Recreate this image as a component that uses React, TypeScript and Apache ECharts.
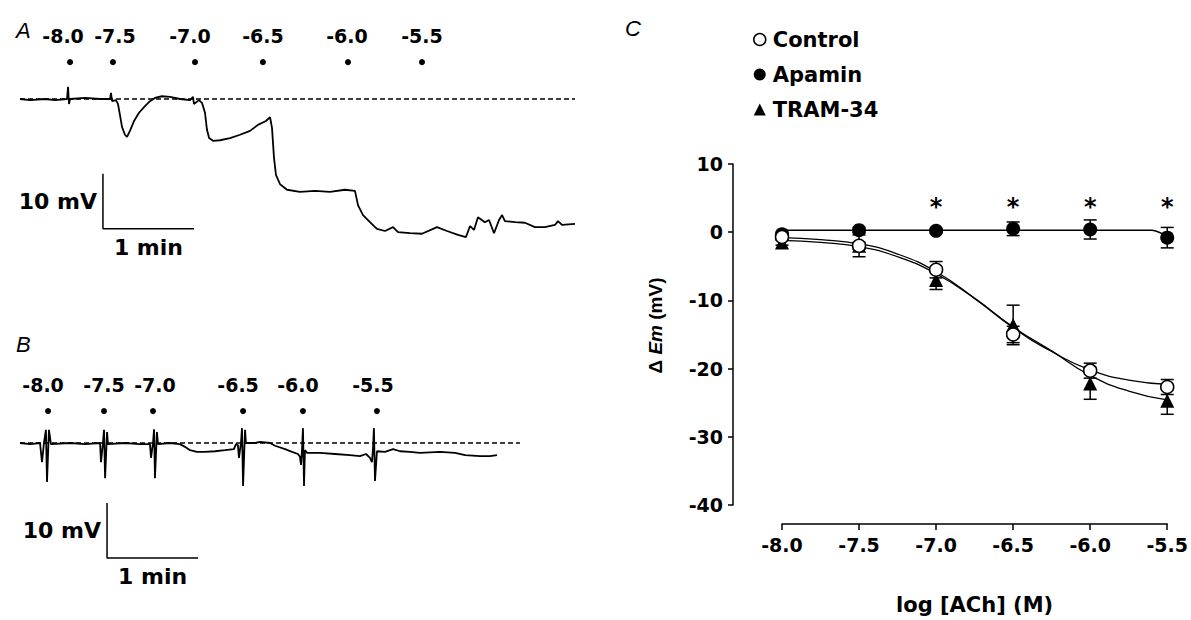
import React, { useEffect, useRef } from "react";
import * as echarts from "echarts";

const FONT = "'DejaVu Sans', sans-serif";
const ARIAL = "'Liberation Sans', Arial, sans-serif";

// ---------- Panel A: membrane potential trace (time s, change in mV) ----------
const traceATime = [0, 6.6, 16.5, 23.1, 31.0, 31.7, 32.3, 33.0, 42.9, 52.8, 59.4, 60.0, 60.7, 63.3, 64.6, 65.9, 67.3, 69.2, 70.6, 72.5, 75.2, 78.5, 82.4, 85.7, 89.0, 93.6, 98.9, 105.5, 112.1, 114.1, 114.7, 118.0, 120.0, 122.0, 123.3, 124.7, 127.3, 131.9, 138.5, 145.1, 151.7, 156.9, 162.2, 164.9, 166.2, 167.5, 168.8, 171.5, 176.1, 184.6, 194.5, 204.4, 214.3, 220.9, 222.9, 226.2, 230.8, 235.4, 240.7, 246.0, 249.3, 257.2, 265.1, 275.0, 281.6, 288.8, 294.1, 296.8, 299.4, 302.0, 306.6, 309.3, 312.6, 315.9, 317.9, 319.8, 326.4, 333.0, 339.6, 346.2, 352.8, 354.8, 357.4, 366.0];
const traceAmV = [0, -0.2, 0, -0.2, 0, 2.2, -0.9, 0, 0.2, 0, 0, 1.1, -0.4, -0.2, -0.9, -2.9, -5.1, -6.5, -6.9, -5.8, -4.0, -2.5, -1.3, -0.4, 0.2, 0.5, 0.4, 0, -0.2, 0.4, -0.9, -0.2, -0.7, -2.5, -5.6, -7.1, -7.6, -7.5, -7.1, -6.5, -5.8, -4.7, -4.0, -3.3, -5.3, -10.7, -13.8, -15.5, -16.5, -16.9, -16.7, -16.9, -16.5, -16.7, -19.3, -21.1, -22.4, -23.6, -24.0, -23.3, -24.2, -24.4, -24.5, -23.3, -24.0, -24.7, -25.1, -23.1, -23.8, -21.5, -22.4, -22.0, -24.4, -22.0, -21.1, -22.2, -22.4, -22.5, -23.3, -23.3, -22.9, -22.2, -22.9, -22.7];
const baselineAEnd = 366;

// ---------- Panel B: trace ----------
const traceBTime = [0, 6.6, 13.2, 14.5, 15.8, 17.1, 17.8, 19.1, 20.4, 33.0, 42.9, 52.8, 53.4, 54.7, 55.4, 56.1, 57.4, 58.0, 69.2, 79.1, 85.7, 86.4, 87.7, 88.4, 89.0, 90.3, 91.0, 98.9, 105.5, 108.8, 112.1, 116.7, 122.0, 128.6, 135.2, 141.1, 142.4, 143.7, 144.4, 145.7, 146.4, 147.1, 148.4, 149.0, 155.0, 158.3, 164.9, 168.2, 174.8, 179.4, 183.3, 184.6, 185.3, 185.9, 186.6, 187.3, 187.9, 189.3, 197.8, 207.7, 217.6, 224.2, 228.2, 230.8, 232.1, 232.8, 233.4, 234.1, 235.4, 240.7, 246.0, 250.6, 257.2, 263.8, 277.0, 286.9, 293.5, 303.4, 309.9, 314.6];
const traceBmV = [0, -0.2, 0, -3.5, 0, 2.4, -7.1, 2.4, -0.2, 0, -0.2, 0, -3.5, 0, 2.4, -6.4, 2.0, -0.2, 0, -0.2, -0.2, -2.7, 0, 2.5, -6.4, 2.0, -0.2, 0, -0.2, -0.7, -1.3, -1.6, -1.6, -1.5, -1.3, -1.1, -0.2, -0.4, -2.7, 0, 2.7, -7.8, 2.4, 0, 0, 0.2, 0, -0.5, -1.1, -1.6, -2.0, -2.5, -4.0, -1.6, 2.7, -7.8, -1.3, -1.8, -1.8, -2.0, -2.2, -2.4, -2.0, -2.7, -3.5, -0.9, 2.7, -6.9, -1.5, -1.6, -1.1, -1.5, -1.6, -1.8, -1.6, -1.8, -2.2, -2.4, -2.4, -2.2];
const baselineBEnd = 329.7;

// ---------- dose application marks ----------
const doseLabels = ["-8.0", "-7.5", "-7.0", "-6.5", "-6.0", "-5.5"];
const doseTimesA = [33.0, 61.3, 115.4, 160.2, 216.3, 265.1];
const doseTimesB = [18.5, 55.4, 87.7, 147.1, 186.6, 235.4];
const doseLevelA = 6.7;
const doseLevelB = 5.8;

// ---------- scale bars (origin = top of the 10 mV bar) ----------
const scaleBarSec = 60;
const scaleBarMv = 10;
const scaleA = [54.7, -13.6];
const scaleB = [57.4, -10.9];

// ---------- Panel C: concentration-response ----------
const logACh = [-8.0, -7.5, -7.0, -6.5, -6.0, -5.5];
const controlMean = [-0.7, -2.0, -5.5, -15.0, -20.3, -22.7];
const controlSem = [0.4, 1.6, 1.2, 1.2, 1.1, 1.1];
const apaminMean = [-0.3, 0.3, 0.2, 0.5, 0.4, -0.8];
const apaminSem = [0.3, 0.4, 0.3, 1.0, 1.4, 1.5];
const tramMean = [-1.5, -2.0, -7.0, -13.6, -22.2, -24.7];
const tramSem = [0.4, 0.5, 1.4, 2.9, 2.3, 2.0];

const fitX = [-8.0, -7.75, -7.5, -7.25, -7.0, -6.75, -6.5, -6.25, -6.0, -5.75, -5.5];
const controlFit = [-0.8, -1.1, -1.7, -3.2, -5.8, -9.7, -14.0, -17.5, -20.2, -21.7, -22.3];
const tramFit = [-1.2, -1.5, -2.1, -3.6, -6.1, -9.7, -13.9, -17.4, -21.0, -23.3, -24.6];
const apaminFitX = [-8.0, -7.0, -6.0, -5.6, -5.57, -5.54, -5.5];
const apaminFit = [0.3, 0.3, 0.3, 0.3, 0.15, -0.15, -0.8];

const sigX = [-7.0, -6.5, -6.0, -5.5];
const sigLevel = 4.3;

// label nudges (style only, px)
const labelNudgeA = [-7, 2, -5, 0, -1, 0];
const labelNudgeB = [-5, 0, 2, -5, -5, -4];

const zip = (a: number[], b: number[]) => a.map((v, i) => [v, b[i]]);

function errorSeries(name: string, mean: number[], sem: number[], z: number) {
  return {
    type: "custom",
    name: name + "-err",
    xAxisIndex: 2,
    yAxisIndex: 2,
    z,
    silent: true,
    data: logACh.map((x, i) => [x, mean[i], sem[i]]),
    encode: { x: 0, y: 1 },
    renderItem: (params: any, api: any) => {
      const x = api.value(0);
      const m = api.value(1);
      const e = api.value(2);
      const top = api.coord([x, m + e]);
      const bot = api.coord([x, m - e]);
      const cap = 6.5;
      const style = { stroke: "#000", lineWidth: 1.5 };
      return {
        type: "group",
        children: [
          { type: "line", shape: { x1: top[0], y1: top[1], x2: bot[0], y2: bot[1] }, style },
          { type: "line", shape: { x1: top[0] - cap, y1: top[1], x2: top[0] + cap, y2: top[1] }, style },
          { type: "line", shape: { x1: bot[0] - cap, y1: bot[1], x2: bot[0] + cap, y2: bot[1] }, style },
        ],
      };
    },
  };
}

function tracePanel(idx: number, time: number[], mv: number[], baseEnd: number, doseTimes: number[], doseLevel: number, scale: number[], nudge: number[]) {
  const [t0, v0] = scale;
  const common = { xAxisIndex: idx, yAxisIndex: idx, silent: true };
  return [
    {
      ...common,
      type: "line",
      data: zip(time, mv),
      symbol: "none",
      lineStyle: { color: "#000", width: 1.8 },
      z: 3,
    },
    {
      ...common,
      type: "line",
      data: [[0, 0], [baseEnd, 0]],
      symbol: "none",
      lineStyle: { color: "#000", width: 1.3, type: [5, 3] },
      z: 2,
    },
    {
      ...common,
      type: "scatter",
      data: doseTimes.map((t, i) => ({ value: [t, doseLevel], label: { formatter: doseLabels[i], offset: [nudge[i], 0] } })),
      symbol: "circle",
      symbolSize: 6,
      itemStyle: { color: "#000", opacity: 1 },
      label: { show: true, position: "top", distance: 14, fontFamily: FONT, fontSize: 19, fontWeight: "bold", color: "#000" },
    },
    {
      ...common,
      type: "line",
      data: [[t0, v0], [t0, v0 - scaleBarMv], [t0 + scaleBarSec, v0 - scaleBarMv]],
      symbol: "none",
      lineStyle: { color: "#000", width: 1.5 },
    },
    {
      ...common,
      type: "scatter",
      symbolSize: 0,
      itemStyle: { opacity: 1 },
      data: [
        { value: [t0, v0 - scaleBarMv / 2], label: { formatter: "10 mV", position: "left", distance: 6 } },
        { value: [t0 + scaleBarSec / 2, v0 - scaleBarMv], label: { formatter: "1 min", position: "bottom", distance: 8 } },
      ],
      label: { show: true, fontFamily: FONT, fontSize: 22, fontWeight: "bold", color: "#000" },
    },
  ];
}

export default function App() {
  const ref = useRef<HTMLDivElement>(null);
  useEffect(() => {
    if (!ref.current) return;
    const chart = echarts.init(ref.current, undefined, { renderer: "svg" });
    const hiddenX = (max: number) => ({ type: "value", min: 0, max, show: false });
    const hiddenY = { type: "value", min: -30, max: 10, show: false };
    const axisTextC = { fontFamily: FONT, fontSize: 19, fontWeight: "bold", color: "#000" };
    const option: any = {
      animation: false,
      backgroundColor: "#fff",
      title: [
        { text: "A", left: 11, top: 14, textStyle: { fontFamily: ARIAL, fontStyle: "italic", fontWeight: "normal", fontSize: 22, color: "#000" } },
        { text: "B", left: 11, top: 328, textStyle: { fontFamily: ARIAL, fontStyle: "italic", fontWeight: "normal", fontSize: 22, color: "#000" } },
        { text: "C", left: 620, top: 12, textStyle: { fontFamily: ARIAL, fontStyle: "italic", fontWeight: "normal", fontSize: 22, color: "#000" } },
      ],
      legend: {
        orient: "vertical",
        left: 748,
        top: 24,
        itemWidth: 12,
        itemHeight: 12,
        itemGap: 14,
        selectedMode: false,
        textStyle: { fontFamily: FONT, fontSize: 21, fontWeight: "bold", color: "#000", padding: [0, 0, 0, 2] },
        data: [
          { name: "Control", icon: "circle", itemStyle: { color: "#fff", borderColor: "#000", borderWidth: 1.5 } },
          { name: "Apamin", icon: "circle", itemStyle: { color: "#000" } },
          { name: "TRAM-34", icon: "triangle", itemStyle: { color: "#000" } },
        ],
      },
      grid: [
        { left: 20, top: 44, width: 555, height: 220 },
        { left: 20, top: 388, width: 555, height: 220 },
        { left: 782, top: 164, width: 386, height: 344 },
      ],
      xAxis: [
        { ...hiddenX(366), gridIndex: 0 },
        { ...hiddenX(366), gridIndex: 1 },
        {
          gridIndex: 2,
          type: "value",
          min: -8,
          max: -5.5,
          interval: 0.5,
          offset: 19,
          name: "log [ACh] (M)",
          nameLocation: "middle",
          nameGap: 70,
          nameTextStyle: { fontFamily: FONT, fontSize: 21, fontWeight: "bold", color: "#000" },
          axisLine: { show: true, onZero: false, lineStyle: { color: "#000", width: 1.5 } },
          axisTick: { show: true, length: 6, lineStyle: { color: "#000", width: 1.5 } },
          axisLabel: { ...axisTextC, margin: 11, formatter: (v: number) => v.toFixed(1) },
          splitLine: { show: false },
        },
      ],
      yAxis: [
        { ...hiddenY, gridIndex: 0 },
        { ...hiddenY, gridIndex: 1 },
        {
          gridIndex: 2,
          type: "value",
          min: -40,
          max: 10,
          interval: 10,
          offset: 49,
          name: "Δ {i|Em} (mV)",
          nameLocation: "middle",
          nameGap: 68,
          nameRotate: 90,
          nameTextStyle: {
            fontFamily: ARIAL,
            fontSize: 19,
            fontWeight: "bold",
            color: "#000",
            padding: [0, 0, 0, 18],
            rich: { i: { fontFamily: ARIAL, fontSize: 19, fontWeight: "bold", fontStyle: "italic", color: "#000" } },
          },
          axisLine: { show: true, onZero: false, lineStyle: { color: "#000", width: 1.5 } },
          axisTick: { show: true, length: 5, lineStyle: { color: "#000", width: 1.5 } },
          axisLabel: { ...axisTextC, margin: 10 },
          splitLine: { show: false },
        },
      ],
      series: [
        ...tracePanel(0, traceATime, traceAmV, baselineAEnd, doseTimesA, doseLevelA, scaleA, labelNudgeA),
        ...tracePanel(1, traceBTime, traceBmV, baselineBEnd, doseTimesB, doseLevelB, scaleB, labelNudgeB),
        errorSeries("Apamin", apaminMean, apaminSem, 2),
        errorSeries("TRAM-34", tramMean, tramSem, 2),
        errorSeries("Control", controlMean, controlSem, 2),
        {
          type: "line", name: "apamin-fit", xAxisIndex: 2, yAxisIndex: 2, silent: true, z: 3,
          data: zip(apaminFitX, apaminFit), smooth: 0.4, symbol: "none",
          lineStyle: { color: "#000", width: 1.5 },
        },
        {
          type: "line", name: "control-fit", xAxisIndex: 2, yAxisIndex: 2, silent: true, z: 3,
          data: zip(fitX, controlFit), smooth: true, symbol: "none",
          lineStyle: { color: "#000", width: 1.3 },
        },
        {
          type: "line", name: "tram-fit", xAxisIndex: 2, yAxisIndex: 2, silent: true, z: 3,
          data: zip(fitX, tramFit), smooth: true, symbol: "none",
          lineStyle: { color: "#000", width: 1.3 },
        },
        {
          type: "scatter", name: "Apamin", xAxisIndex: 2, yAxisIndex: 2, z: 4,
          data: zip(logACh, apaminMean), symbol: "circle", symbolSize: 14,
          itemStyle: { color: "#000", opacity: 1 },
        },
        {
          type: "scatter", name: "TRAM-34", xAxisIndex: 2, yAxisIndex: 2, z: 5,
          data: zip(logACh, tramMean), symbol: "triangle", symbolSize: 14,
          itemStyle: { color: "#000", opacity: 1 },
        },
        {
          type: "scatter", name: "Control", xAxisIndex: 2, yAxisIndex: 2, z: 6,
          data: zip(logACh, controlMean), symbol: "circle", symbolSize: 13,
          itemStyle: { color: "#fff", borderColor: "#000", borderWidth: 1.5, opacity: 1 },
        },
        {
          type: "scatter", name: "sig", xAxisIndex: 2, yAxisIndex: 2, z: 6, silent: true,
          data: sigX.map((x) => [x, sigLevel]), symbolSize: 0,
          itemStyle: { opacity: 1 },
          label: { show: true, position: "inside", formatter: "*", offset: [0, 4], fontFamily: FONT, fontSize: 24, fontWeight: "bold", color: "#000" },
        },
      ],
    };
    chart.setOption(option);
    return () => chart.dispose();
  }, []);
  return <div ref={ref} style={{ position: "absolute", left: 0, top: 0, width: 1191, height: 620, background: "#fff" }} />;
}
